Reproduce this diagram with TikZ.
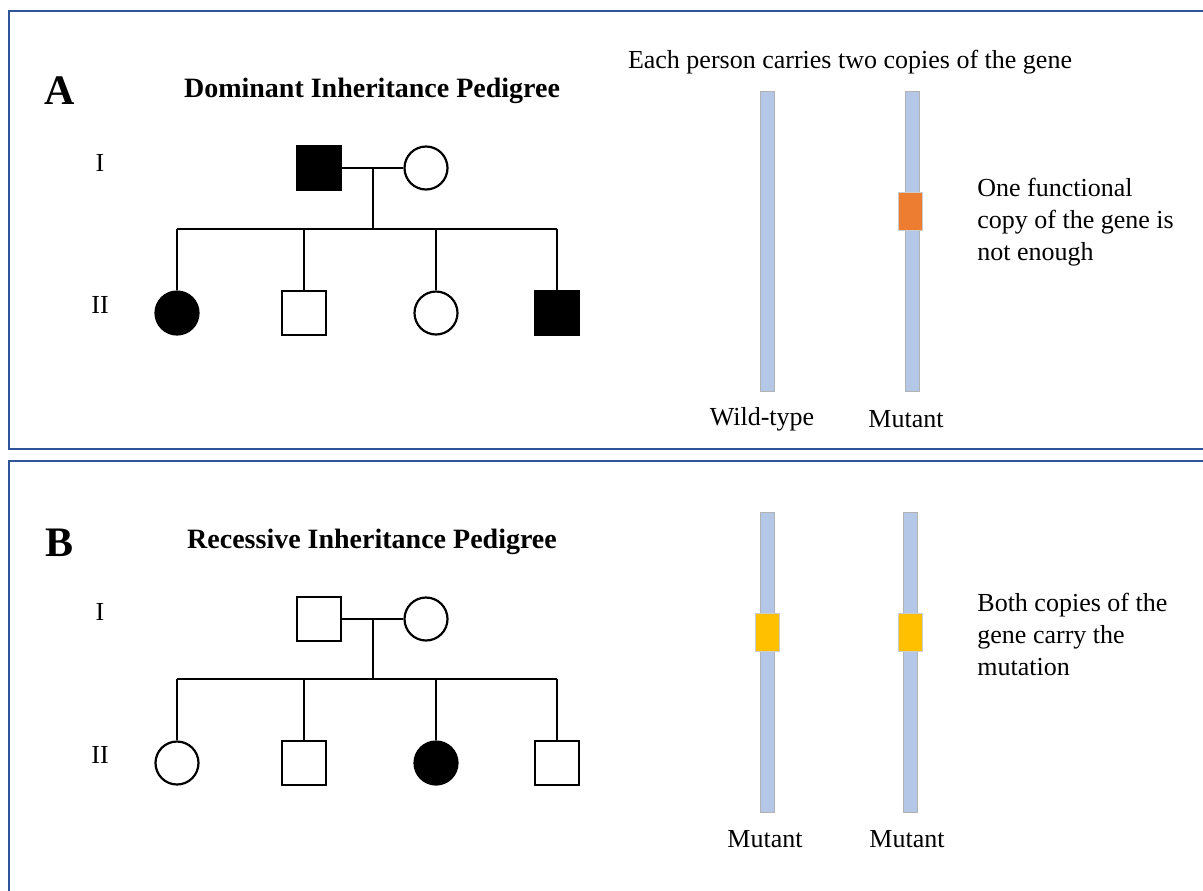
\documentclass[tikz,border=0pt]{standalone}
\usepackage{fontspec}
\setmainfont{Liberation Serif}
\usetikzlibrary{positioning}

\definecolor{frameblue}{HTML}{2F5597}
\definecolor{genebar}{HTML}{B4C7E7}
\definecolor{mutorange}{HTML}{ED7D31}
\definecolor{mutyellow}{HTML}{FFC000}

\tikzset{
  male/.style={draw, line width=1.1pt, minimum size=22pt, inner sep=0pt},
  female/.style={draw, circle, line width=1.1pt, minimum size=21.5pt, inner sep=0pt},
  affected/.style={fill=black},
  gen/.style={font=\fontsize{13}{16}\selectfont},
  txt/.style={font=\fontsize{13}{16}\selectfont, align=left, inner sep=0pt},
  ttl/.style={font=\fontsize{14}{17}\selectfont\bfseries},
  letter/.style={font=\fontsize{21}{24}\selectfont\bfseries},
  panel/.style={draw=frameblue, line width=1pt},
  gene/.style={draw=gray!60, fill=genebar, line width=0.3pt, minimum width=7pt, minimum height=150pt, inner sep=0pt},
  mutation/.style={draw=gray!40, line width=0.3pt, minimum width=12pt, minimum height=19pt, inner sep=0pt},
}

\begin{document}
\begin{tikzpicture}[x=0.5pt, y=-0.5pt]
        \useasboundingbox (0,0) rectangle (1203,890);
        % panel frames
        \draw[panel] (9,11) rectangle (1215,449);
        \draw[panel] (9,461) rectangle (1215,900);

        % --- dominant pedigree
        \node[letter] (lblA) at (60,91) {A};
        \node[ttl] (ttlA) at (372,91) {Dominant Inheritance Pedigree};
        \node[gen] (genIA) at (100,163) {I};
        \node[gen] (genIIA) at (100,305) {II};

        \node[male, affected] (fA) at (319,168) {};
        \node[female] (mA) at (426,168) {};
        \coordinate (matA) at (373,168);
        \coordinate (sibA) at (373,229);

        \node[female, affected] (cA1) at (177,313) {};
        \node[male] (cA2) at (304,313) {};
        \node[female] (cA3) at (436,313) {};
        \node[male, affected] (cA4) at (557,313) {};

        \draw[line width=1pt] (fA.east) -- (mA.west);
        \draw[line width=1pt] (matA) -- (sibA);
        \draw[line width=1pt] (cA1 |- sibA) -- (cA4 |- sibA);
        \foreach \c in {cA1,cA2,cA3,cA4}
          \draw[line width=1pt] (\c.north) -- (\c |- sibA);

        % gene copies, one mutated
        \node[gen] (headA) at (850,62) {Each person carries two copies of the gene};
        \node[gene] (wtA) at (767,241) {};
        \node[gene] (mtA) at (912,241) {};
        \node[mutation, fill=mutorange] (hitA) at (910,211) {};
        \node[gen] (wtlblA) at (762,419) {Wild-type};
        \node[gen] (mtlblA) at (906,419) {Mutant};
        \node[txt, anchor=west] (noteA) at (977,222) {One functional\\copy of the gene is\\not enough};

        % --- recessive pedigree
        \node[letter] (lblB) at (60,543) {B};
        \node[ttl] (ttlB) at (372,542) {Recessive Inheritance Pedigree};
        \node[gen] (genIB) at (100,612) {I};
        \node[gen] (genIIB) at (100,755) {II};

        \node[male] (fB) at (319,619) {};
        \node[female] (mB) at (426,619) {};
        \coordinate (matB) at (373,619);
        \coordinate (sibB) at (373,679);

        \node[female] (cB1) at (177,763) {};
        \node[male] (cB2) at (304,763) {};
        \node[female, affected] (cB3) at (436,763) {};
        \node[male] (cB4) at (557,763) {};

        \draw[line width=1pt] (fB.east) -- (mB.west);
        \draw[line width=1pt] (matB) -- (sibB);
        \draw[line width=1pt] (cB1 |- sibB) -- (cB4 |- sibB);
        \foreach \c in {cB1,cB2,cB3,cB4}
          \draw[line width=1pt] (\c.north) -- (\c |- sibB);

        % both copies mutated
        \node[gene] (mtB1) at (767,662) {};
        \node[gene] (mtB2) at (910,662) {};
        \node[mutation, fill=mutyellow] (hitB1) at (767,632) {};
        \node[mutation, fill=mutyellow] (hitB2) at (910,632) {};
        \node[gen] (lblB1) at (765,839) {Mutant};
        \node[gen] (lblB2) at (907,839) {Mutant};
        \node[txt, anchor=west] (noteB) at (977,634) {Both copies of the\\gene carry the\\mutation};
\end{tikzpicture}
\end{document}
